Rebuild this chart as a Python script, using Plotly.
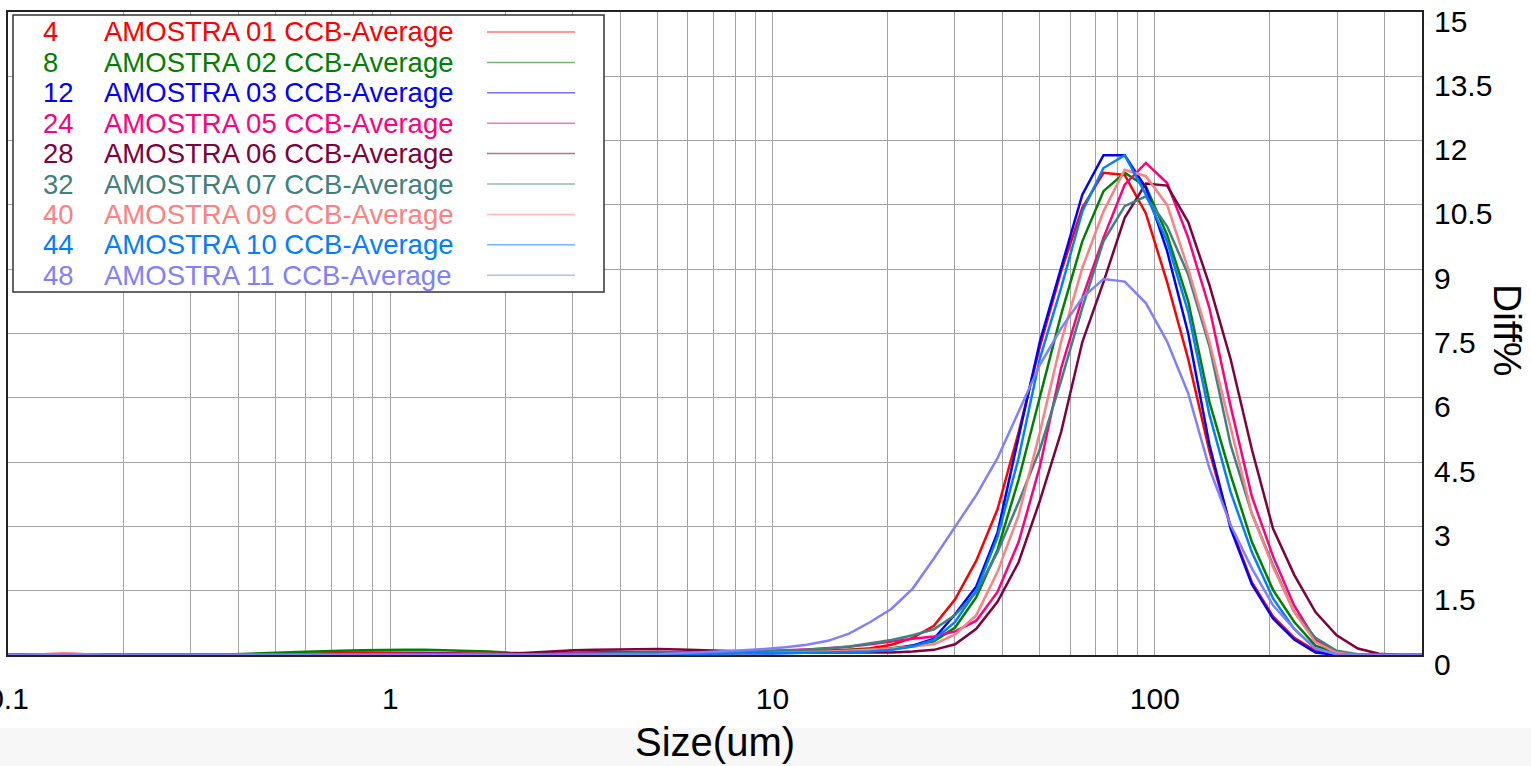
import plotly.graph_objects as go

# ---- data -------------------------------------------------------------
size_um = [0.0960, 0.1091, 0.1240, 0.1408, 0.1600, 0.1818, 0.2065, 0.2347, 0.2667, 0.3030, 0.3442, 0.3911,
           0.4443, 0.5048, 0.5735, 0.6516, 0.7403, 0.8414, 0.9559, 1.086, 1.234, 1.402, 1.593, 1.810, 2.057, 2.337,
           2.655, 3.017, 3.427, 3.894, 4.424, 5.027, 5.711, 6.489, 7.372, 8.379, 9.517, 10.81, 12.29, 13.96,
           15.86, 18.02, 20.48, 23.26, 26.43, 30.03, 34.12, 38.77, 44.05, 50.05, 56.87, 64.62,
           73.40, 83.41, 94.76, 107.7, 122.3, 139.0, 157.9, 179.4, 203.8, 231.6, 263.2, 299.0, 339.7, 386.0,
           438.5, 498.3, 566.2]

amostra_01 = [0, 0, 0.02, 0.03, 0.02, 0, 0, 0, 0, 0, 0, 0,
              0, 0, 0.02, 0.04, 0.05, 0.06, 0.06, 0.06, 0.05, 0.04, 0.03, 0.02, 0.02, 0.02,
              0.02, 0.03, 0.03, 0.04, 0.04, 0.04, 0.04, 0.04, 0.04, 0.05, 0.05, 0.06, 0.07, 0.09,
              0.12, 0.16, 0.24, 0.4, 0.68, 1.3, 2.2, 3.4, 5.2, 7.2, 8.95, 10.43,
              11.25, 11.2, 10.3, 8.7, 6.9, 4.75, 3.0, 1.7, 0.9, 0.4, 0.1, 0.01, 0, 0, 0, 0, 0]
amostra_02 = [0, 0, 0, 0, 0, 0, 0, 0, 0, 0, 0.01, 0.02,
              0.03, 0.05, 0.07, 0.09, 0.1, 0.11, 0.12, 0.12, 0.12, 0.11, 0.1, 0.08, 0.05, 0.03,
              0.02, 0.02, 0.02, 0.03, 0.03, 0.03, 0.04, 0.04, 0.05, 0.06, 0.07, 0.08, 0.09, 0.1,
              0.11, 0.13, 0.16, 0.22, 0.32, 0.64, 1.35, 2.45, 4.1, 6.0, 7.94, 9.65,
              10.82, 11.25, 10.93, 9.8, 8.25, 5.9, 4.2, 2.64, 1.52, 0.77, 0.22, 0.05, 0, 0, 0, 0, 0]
amostra_03 = [0, 0, 0, 0, 0, 0, 0, 0, 0, 0, 0, 0,
              0, 0, 0, 0, 0, 0.01, 0.02, 0.03, 0.03, 0.03, 0.02, 0.02, 0.02, 0.03,
              0.04, 0.06, 0.07, 0.07, 0.06, 0.05, 0.04, 0.03, 0.03, 0.03, 0.04, 0.04, 0.05, 0.06,
              0.07, 0.08, 0.13, 0.22, 0.38, 0.95, 1.6, 2.85, 5.1, 7.31, 9.03, 10.74,
              11.66, 11.66, 10.9, 9.42, 7.5, 4.9, 2.95, 1.65, 0.85, 0.36, 0.06, 0, 0, 0, 0, 0, 0]
amostra_05 = [0, 0, 0.01, 0.02, 0.02, 0.01, 0, 0, 0, 0, 0, 0,
              0, 0, 0, 0.01, 0.02, 0.02, 0.02, 0.02, 0.02, 0.02, 0.03, 0.03, 0.03, 0.04,
              0.04, 0.05, 0.05, 0.06, 0.06, 0.06, 0.06, 0.06, 0.07, 0.08, 0.09, 0.11, 0.13, 0.16,
              0.19, 0.25, 0.32, 0.38, 0.43, 0.55, 0.8, 1.47, 2.64, 4.4, 6.69, 8.33,
              9.73, 10.97, 11.48, 11.01, 9.73, 8.09, 5.8, 3.7, 2.3, 1.15, 0.35, 0.05, 0, 0, 0, 0, 0]
amostra_06 = [0, 0, 0, 0, 0, 0, 0, 0, 0, 0, 0, 0,
              0, 0, 0, 0, 0, 0, 0, 0, 0, 0, 0, 0.01, 0.03, 0.06,
              0.09, 0.11, 0.12, 0.13, 0.14, 0.14, 0.13, 0.12, 0.1, 0.08, 0.07, 0.06, 0.06, 0.06,
              0.06, 0.05, 0.06, 0.08, 0.12, 0.25, 0.61, 1.24, 2.17, 3.6, 5.2, 7.3,
              8.7, 10.2, 11.0, 10.95, 10.1, 8.63, 6.9, 4.8, 2.95, 1.87, 1.0, 0.46, 0.15, 0.03, 0, 0, 0]
amostra_07 = [0, 0, 0, 0, 0, 0, 0, 0, 0, 0, 0, 0,
              0, 0, 0, 0, 0, 0, 0, 0, 0, 0, 0, 0.01, 0.01, 0.02,
              0.02, 0.03, 0.03, 0.04, 0.04, 0.05, 0.05, 0.05, 0.06, 0.07, 0.08, 0.1, 0.12, 0.15,
              0.2, 0.27, 0.35, 0.46, 0.6, 0.93, 1.47, 2.4, 3.57, 4.8, 6.4, 8.1,
              9.65, 10.47, 10.7, 10.0, 8.87, 7.2, 4.9, 3.3, 2.1, 1.0, 0.4, 0.1, 0.02, 0, 0, 0, 0]
amostra_09 = [0, 0, 0.02, 0.03, 0.02, 0, 0, 0, 0, 0, 0, 0,
              0, 0, 0, 0, 0, 0, 0, 0, 0, 0, 0, 0, 0, 0,
              0, 0, 0, 0.01, 0.01, 0.02, 0.02, 0.02, 0.03, 0.03, 0.04, 0.05, 0.06, 0.08,
              0.1, 0.12, 0.15, 0.2, 0.25, 0.48, 0.93, 1.94, 3.27, 5.2, 7.31, 9.03,
              10.35, 11.32, 11.17, 10.5, 9.0, 7.3, 5.3, 3.3, 2.05, 1.0, 0.3, 0.05, 0, 0, 0, 0, 0]
amostra_10 = [0, 0, 0, 0, 0, 0, 0, 0, 0, 0, 0, 0,
              0, 0, 0, 0, 0, 0, 0, 0.01, 0.01, 0.01, 0.01, 0.01, 0.01, 0.02,
              0.02, 0.03, 0.03, 0.03, 0.03, 0.03, 0.03, 0.03, 0.03, 0.04, 0.04, 0.05, 0.05, 0.06,
              0.07, 0.08, 0.12, 0.2, 0.35, 0.77, 1.5, 2.75, 4.6, 6.92, 8.56, 10.35,
              11.36, 11.66, 10.74, 9.65, 8.0, 5.6, 3.8, 2.4, 1.32, 0.61, 0.15, 0.02, 0, 0, 0, 0, 0]
amostra_11 = [0, 0, 0, 0, 0, 0, 0, 0, 0, 0, 0, 0,
              0, 0, 0, 0, 0, 0, 0, 0, 0, 0, 0, 0, 0, 0,
              0, 0, 0, 0, 0.01, 0.02, 0.04, 0.07, 0.09, 0.11, 0.14, 0.18, 0.24, 0.33,
              0.5, 0.77, 1.08, 1.55, 2.25, 3.0, 3.73, 4.59, 5.7, 6.77, 7.62, 8.33,
              8.77, 8.71, 8.21, 7.31, 6.1, 4.35, 3.03, 2.02, 1.16, 0.61, 0.15, 0.02, 0, 0, 0, 0, 0]

sample_ids = ["4", "8", "12", "24", "28", "32", "40", "44", "48"]
sample_names = ["AMOSTRA 01 CCB-Average", "AMOSTRA 02 CCB-Average", "AMOSTRA 03 CCB-Average",
                "AMOSTRA 05 CCB-Average", "AMOSTRA 06 CCB-Average", "AMOSTRA 07 CCB-Average",
                "AMOSTRA 09 CCB-Average", "AMOSTRA 10 CCB-Average", "AMOSTRA 11 CCB-Average"]
series = [amostra_01, amostra_02, amostra_03, amostra_05, amostra_06,
          amostra_07, amostra_09, amostra_10, amostra_11]
colors = ["#FF0000", "#008000", "#0000FF", "#FF0080", "#800040",
          "#408080", "#FF8080", "#0080FF", "#8080FF"]

x_ticks = [0.1, 1, 10, 100]
x_ticktext = ["0.1", "1", "10", "100"]
x_minor = [0.2, 0.3, 0.4, 0.5, 0.6, 0.7, 0.8, 0.9, 2, 3, 4, 5, 6, 7, 8, 9,
           20, 30, 40, 50, 60, 70, 80, 90, 200, 300, 400, 500]
y_ticks = [0, 1.5, 3, 4.5, 6, 7.5, 9, 10.5, 12, 13.5, 15]
y_ticktext = ["0", "1.5", "3", "4.5", "6", "7.5", "9", "10.5", "12", "13.5", "15"]

# ---- figure -----------------------------------------------------------
W, H = 1531, 766
L, R, T, B = 8, 109, 12, 111
pw, ph = W - L - R, H - T - B


def px_x(p):
    return (p - L) / pw


def px_y(p):
    return (H - B - p) / ph


fig = go.Figure()
for name, vals, col in zip(sample_names, series, colors):
    fig.add_trace(go.Scatter(x=size_um, y=vals, mode="lines", name=name,
                             line=dict(color=col, width=2.5), showlegend=False))

FONT = "Liberation Sans, Arial, Helvetica, sans-serif"
GRID = "#a3a3a3"

shapes = []
annotations = []
# gray band at bottom of page
shapes.append(dict(type="rect", xref="paper", yref="paper",
                   x0=px_x(-5), x1=px_x(W + 5), y0=px_y(728), y1=px_y(H + 5),
                   fillcolor="#f7f7f7", line=dict(width=0), layer="below"))
# legend box
shapes.append(dict(type="rect", xref="paper", yref="paper",
                   x0=px_x(13), x1=px_x(604), y0=px_y(292), y1=px_y(15),
                   fillcolor="white", line=dict(color="#333333", width=1.5), layer="above"))
row0, dy = 32, 30.4
for i, (sid, nm, col) in enumerate(zip(sample_ids, sample_names, colors)):
    yc = px_y(row0 + i * dy)
    annotations.append(dict(xref="paper", yref="paper", x=px_x(41), y=yc, text=sid,
                            showarrow=False, xanchor="left", yanchor="middle",
                            font=dict(family=FONT, size=27.5, color=col)))
    annotations.append(dict(xref="paper", yref="paper", x=px_x(102), y=yc, text=nm,
                            showarrow=False, xanchor="left", yanchor="middle",
                            font=dict(family=FONT, size=27.5, color=col)))
    shapes.append(dict(type="line", xref="paper", yref="paper",
                       x0=px_x(487), x1=px_x(575), y0=yc, y1=yc,
                       line=dict(color=col, width=1.5), opacity=0.55, layer="above"))

# right-hand y tick labels (drawn slightly below their grid lines, as in the original)
for v, t in zip(y_ticks, y_ticktext):
    annotations.append(dict(xref="paper", yref="y", x=1, y=v, text=t, showarrow=False,
                            xanchor="left", yanchor="middle", xshift=10, yshift=-9,
                            font=dict(family=FONT, size=30, color="black")))

annotations.append(dict(xref="paper", yref="paper", x=0.5, y=px_y(742), text="Size(um)",
                        showarrow=False, xanchor="center", yanchor="middle",
                        font=dict(family=FONT, size=40, color="black")))
annotations.append(dict(xref="paper", yref="paper", x=px_x(1508), y=px_y(330), text="Diff%",
                        showarrow=False, xanchor="center", yanchor="middle", textangle=90,
                        font=dict(family=FONT, size=39, color="black")))

fig.update_layout(
    width=W, height=H,
    margin=dict(l=L, r=R, t=T, b=B, pad=0, autoexpand=False),
    paper_bgcolor="white", plot_bgcolor="white",
    font=dict(family=FONT, color="black"),
    shapes=shapes, annotations=annotations,
    showlegend=False,
    xaxis=dict(type="log", range=[-1, 2.69897], tickmode="array", tickvals=x_ticks,
               ticktext=x_ticktext, tickfont=dict(size=30), ticks="", ticklabelstandoff=16,
               ticklabeloverflow="allow", automargin=False,
               showgrid=True, gridcolor=GRID, gridwidth=1.2,
               minor=dict(tickmode="array", tickvals=x_minor, showgrid=True,
                          gridcolor=GRID, gridwidth=1.2, ticks=""),
               showline=True, linecolor="#222222", linewidth=2, mirror=True, zeroline=False),
    yaxis=dict(side="right", range=[0, 15], tickmode="array", tickvals=y_ticks,
               showticklabels=False, ticks="", automargin=False,
               showgrid=True, gridcolor=GRID, gridwidth=1.2,
               showline=True, linecolor="#222222", linewidth=2, mirror=True, zeroline=False),
)

fig.write_html(
    "out.html",
    config={"displayModeBar": False},
    post_script="document.body.style.margin='0';document.body.style.padding='0';"
                "document.body.style.overflow='hidden';"
                "document.documentElement.style.overflow='hidden';",
)
